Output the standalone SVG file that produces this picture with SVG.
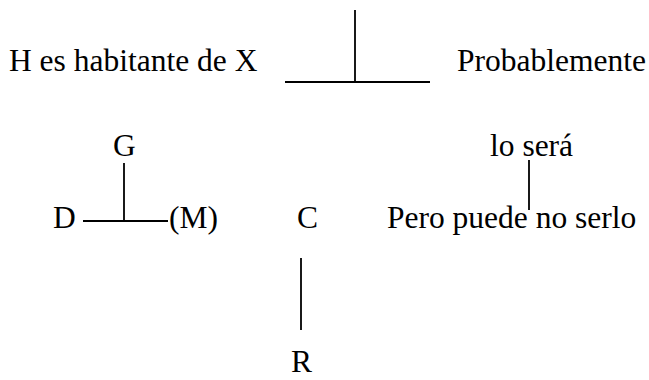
<svg xmlns="http://www.w3.org/2000/svg" width="649" height="380" viewBox="0 0 649 380">
<style>
text{font-family:"Liberation Serif","Times New Roman",serif;font-size:31.5px;fill:#000}
.ln{stroke:#000;stroke-width:1.8;fill:none}
</style>
<rect width="649" height="380" fill="#fff"/>
<g id="datum"><text x="9" y="71">H es habitante de X</text></g>
<g id="claim"><text x="457" y="71">Probablemente</text></g>
<g id="qualifier"><text x="490" y="156">lo será</text></g>
<g id="rebuttal"><text x="387" y="228">Pero puede no serlo</text></g>
<g id="G"><text x="113" y="156">G</text></g>
<g id="D"><text x="53" y="228">D</text></g>
<g id="M"><text x="169" y="228">(M)</text></g>
<g id="C"><text x="297" y="228">C</text></g>
<g id="R"><text x="291" y="372">R</text></g>
<g id="connectors">
<line class="ln" x1="285" y1="82" x2="430" y2="82"/>
<line class="ln" x1="355" y1="10" x2="355" y2="82"/>
<line class="ln" x1="83" y1="221" x2="168" y2="221"/>
<line class="ln" x1="124" y1="163" x2="124" y2="221"/>
<line class="ln" x1="529" y1="160" x2="529" y2="210"/>
<line class="ln" x1="301" y1="258" x2="301" y2="330"/>
</g>
</svg>
